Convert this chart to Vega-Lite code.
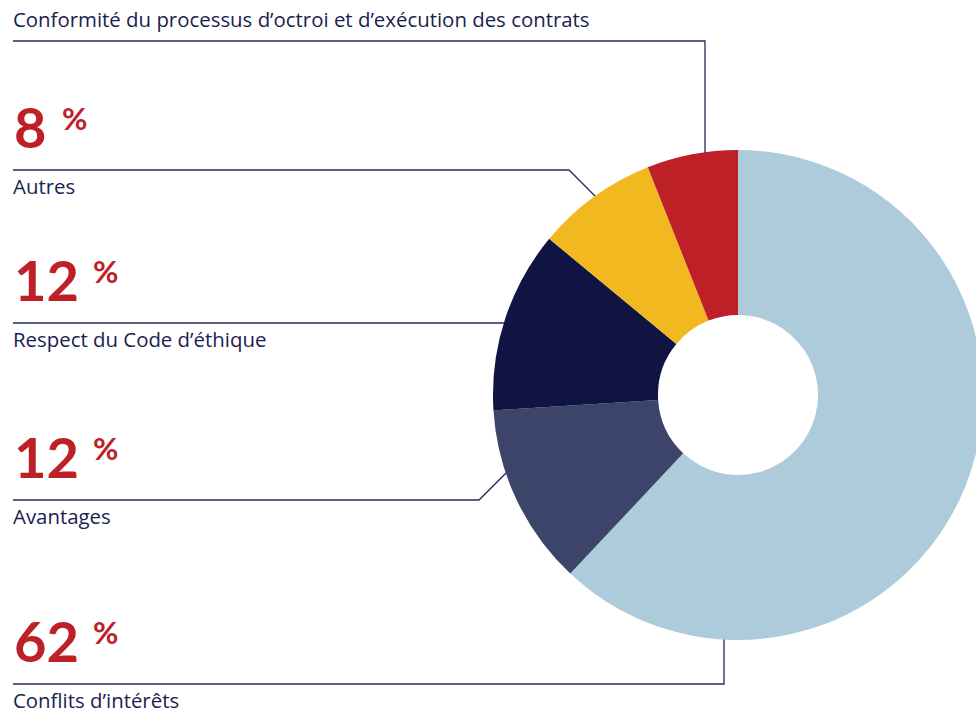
{
  "$schema": "https://vega.github.io/schema/vega-lite/v6.json",
  "width": 976,
  "height": 710,
  "autosize": {"type": "none"},
  "padding": 0,
  "background": "white",
  "config": {"view": {"stroke": null}, "font": "Lato"},
  "datasets": {
    "slices": [
      {"category": "Conflits d’intérêts", "value": 62, "order": 1},
      {"category": "Avantages", "value": 12, "order": 2},
      {"category": "Respect du Code d’éthique", "value": 12, "order": 3},
      {"category": "Autres", "value": 8, "order": 4},
      {"category": "Conformité du processus d’octroi et d’exécution des contrats", "value": 6, "order": 5}
    ],
    "leaders": [
      {"category": "Conformité du processus d’octroi et d’exécution des contrats", "step": 0, "px": 13, "py": 41},
      {"category": "Conformité du processus d’octroi et d’exécution des contrats", "step": 1, "px": 705, "py": 41},
      {"category": "Conformité du processus d’octroi et d’exécution des contrats", "step": 2, "px": 705, "py": 165},
      {"category": "Autres", "step": 0, "px": 13, "py": 170},
      {"category": "Autres", "step": 1, "px": 569, "py": 170},
      {"category": "Autres", "step": 2, "px": 600, "py": 201},
      {"category": "Respect du Code d’éthique", "step": 0, "px": 13, "py": 323},
      {"category": "Respect du Code d’éthique", "step": 1, "px": 512, "py": 323},
      {"category": "Avantages", "step": 0, "px": 13, "py": 500},
      {"category": "Avantages", "step": 1, "px": 479, "py": 500},
      {"category": "Avantages", "step": 2, "px": 510, "py": 469},
      {"category": "Conflits d’intérêts", "step": 0, "px": 13, "py": 684},
      {"category": "Conflits d’intérêts", "step": 1, "px": 724, "py": 684},
      {"category": "Conflits d’intérêts", "step": 2, "px": 724, "py": 630}
    ]
  },
  "layer": [
    {
      "data": {"name": "leaders"},
      "mark": {"type": "line", "stroke": "#262b5a", "strokeWidth": 1.3, "interpolate": "linear"},
      "encoding": {
        "x": {"field": "px", "type": "quantitative", "scale": {"domain": [0, 976], "nice": false, "zero": false}, "axis": null},
        "y": {"field": "py", "type": "quantitative", "scale": {"domain": [0, 710], "nice": false, "zero": false, "reverse": true}, "axis": null},
        "detail": {"field": "category"},
        "order": {"field": "step"}
      }
    },
    {
      "data": {"name": "slices"},
      "mark": {"type": "arc", "outerRadius": 245, "innerRadius": 80, "stroke": null},
      "encoding": {
        "x": {"datum": 738, "type": "quantitative", "scale": {"domain": [0, 976], "nice": false, "zero": false}, "axis": null},
        "y": {"datum": 395, "type": "quantitative", "scale": {"domain": [0, 710], "nice": false, "zero": false, "reverse": true}, "axis": null},
        "theta": {"field": "value", "type": "quantitative", "stack": true},
        "order": {"field": "order", "type": "quantitative"},
        "color": {
          "field": "category",
          "type": "nominal",
          "scale": {
            "domain": ["Conflits d’intérêts", "Avantages", "Respect du Code d’éthique", "Autres", "Conformité du processus d’octroi et d’exécution des contrats"],
            "range": ["#aecbdb", "#3c4469", "#0f1442", "#f2b81f", "#bd2026"]
          },
          "legend": null
        }
      }
    },
    {
      "data": {"name": "leaders"},
      "transform": [
        {"filter": "datum.step == 0"},
        {"lookup": "category", "from": {"data": {"name": "slices"}, "key": "category", "fields": ["value", "order"]}},
        {"filter": "datum.order < 5"}
      ],
      "mark": {"type": "text", "align": "left", "baseline": "alphabetic", "dy": 24, "fontSize": 20.4, "font": "Open Sans", "color": "#1b2150"},
      "encoding": {
        "x": {"field": "px", "type": "quantitative", "scale": {"domain": [0, 976], "nice": false, "zero": false}, "axis": null},
        "y": {"field": "py", "type": "quantitative", "scale": {"domain": [0, 710], "nice": false, "zero": false, "reverse": true}, "axis": null},
        "text": {"field": "category"}
      }
    },
    {
      "data": {"name": "leaders"},
      "transform": [
        {"filter": "datum.step == 0"},
        {"lookup": "category", "from": {"data": {"name": "slices"}, "key": "category", "fields": ["value", "order"]}},
        {"filter": "datum.order == 5"}
      ],
      "mark": {"type": "text", "align": "left", "baseline": "alphabetic", "dy": -14, "fontSize": 20.4, "font": "Open Sans", "color": "#1b2150"},
      "encoding": {
        "x": {"field": "px", "type": "quantitative", "scale": {"domain": [0, 976], "nice": false, "zero": false}, "axis": null},
        "y": {"field": "py", "type": "quantitative", "scale": {"domain": [0, 710], "nice": false, "zero": false, "reverse": true}, "axis": null},
        "text": {"field": "category"}
      }
    },
    {
      "data": {"name": "leaders"},
      "transform": [
        {"filter": "datum.step == 0"},
        {"lookup": "category", "from": {"data": {"name": "slices"}, "key": "category", "fields": ["value", "order"]}},
        {"filter": "datum.order < 5"}
      ],
      "mark": {"type": "text", "align": "left", "baseline": "alphabetic", "dy": -22, "dx": 1, "fontSize": 56, "fontWeight": "bold", "color": "#bd2026"},
      "encoding": {
        "x": {"field": "px", "type": "quantitative", "scale": {"domain": [0, 976], "nice": false, "zero": false}, "axis": null},
        "y": {"field": "py", "type": "quantitative", "scale": {"domain": [0, 710], "nice": false, "zero": false, "reverse": true}, "axis": null},
        "text": {"field": "value", "type": "quantitative"}
      }
    },
    {
      "data": {"name": "leaders"},
      "transform": [
        {"filter": "datum.step == 0"},
        {"lookup": "category", "from": {"data": {"name": "slices"}, "key": "category", "fields": ["value", "order"]}},
        {"filter": "datum.order < 5 && datum.value < 10"}
      ],
      "mark": {"type": "text", "align": "left", "baseline": "alphabetic", "dy": -40, "dx": 49, "fontSize": 31, "fontWeight": "bold", "color": "#bd2026", "text": "%"},
      "encoding": {
        "x": {"field": "px", "type": "quantitative", "scale": {"domain": [0, 976], "nice": false, "zero": false}, "axis": null},
        "y": {"field": "py", "type": "quantitative", "scale": {"domain": [0, 710], "nice": false, "zero": false, "reverse": true}, "axis": null}
      }
    },
    {
      "data": {"name": "leaders"},
      "transform": [
        {"filter": "datum.step == 0"},
        {"lookup": "category", "from": {"data": {"name": "slices"}, "key": "category", "fields": ["value", "order"]}},
        {"filter": "datum.order < 5 && datum.value >= 10"}
      ],
      "mark": {"type": "text", "align": "left", "baseline": "alphabetic", "dy": -40, "dx": 80, "fontSize": 31, "fontWeight": "bold", "color": "#bd2026", "text": "%"},
      "encoding": {
        "x": {"field": "px", "type": "quantitative", "scale": {"domain": [0, 976], "nice": false, "zero": false}, "axis": null},
        "y": {"field": "py", "type": "quantitative", "scale": {"domain": [0, 710], "nice": false, "zero": false, "reverse": true}, "axis": null}
      }
    }
  ]
}
